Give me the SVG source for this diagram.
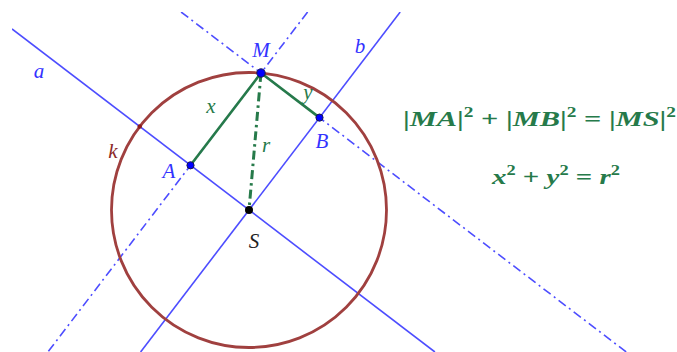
<svg xmlns="http://www.w3.org/2000/svg" width="677" height="352" viewBox="0 0 677 352">
<style>
.ln{stroke:#4d4dff;stroke-width:1.6;fill:none}
.dd{stroke:#4d4dff;stroke-width:1.6;fill:none;stroke-dasharray:9 4 2 4}
.seg{stroke:#267a4a;stroke-width:2.6;fill:none}
.segdd{stroke:#267a4a;stroke-width:3;fill:none;stroke-dasharray:9 4 2.5 4}
.circ{stroke:#a0403f;stroke-width:2.8;fill:none}
.pt{fill:#0000ff;stroke:#1a1a4d;stroke-width:1}
.lbl{font-family:"Liberation Serif","DejaVu Serif",serif;font-style:italic;font-size:21px}
.blue{fill:#3333ff}
.green{fill:#267a4a}
.eq{font-family:"Liberation Serif","DejaVu Serif",serif;font-weight:bold;fill:#267a4a;font-size:22px}
.it{font-style:italic}
.sup{font-size:14px}
</style>
<defs>
<clipPath id="view"><rect x="12" y="12" width="665" height="340"/></clipPath>
</defs>
<rect width="677" height="352" fill="#fff"/>
<g id="connectors" clip-path="url(#view)">
<line id="line-a" class="ln" x1="12" y1="29" x2="434.9" y2="352"/>
<line id="line-b" class="ln" x1="400.2" y1="12" x2="140.6" y2="352"/>
<line id="line-MB" class="dd" x1="181.1" y1="12" x2="626.3" y2="352"/>
<line id="line-MA" class="dd" x1="307.6" y1="12" x2="47.9" y2="352"/>
<circle id="circle-k" class="circ" cx="249" cy="210" r="137.5"/>
<line id="seg-x" class="seg" x1="261" y1="73" x2="190.5" y2="165.3"/>
<line id="seg-y" class="seg" x1="261" y1="73" x2="319.5" y2="117.6"/>
<line id="seg-r" class="segdd" x1="261" y1="73" x2="249" y2="210"/>
</g>
<g id="node-k-a"><circle cx="139.7" cy="126.5" r="2.2" fill="#8b1a1a"/></g>
<g id="node-M"><circle class="pt" cx="261" cy="73" r="4.2"/><text class="lbl blue" x="261" y="57" text-anchor="middle">M</text></g>
<g id="node-A"><circle class="pt" cx="190.5" cy="165.3" r="3.6"/><text class="lbl blue" x="169" y="178" text-anchor="middle">A</text></g>
<g id="node-B"><circle class="pt" cx="319.5" cy="117.6" r="3.6"/><text class="lbl blue" x="322" y="148" text-anchor="middle">B</text></g>
<g id="node-S"><circle cx="249" cy="210" r="4" fill="#000"/><text class="lbl" x="254" y="248" text-anchor="middle" fill="#222">S</text></g>
<g id="labels">
<text class="lbl blue" x="39" y="78" text-anchor="middle">a</text>
<text class="lbl blue" x="360" y="53" text-anchor="middle">b</text>
<text class="lbl" x="113" y="158" text-anchor="middle" fill="#8b2a2a">k</text>
<text class="lbl green" x="211" y="113" text-anchor="middle">x</text>
<text class="lbl green" x="308" y="99" text-anchor="middle">y</text>
<text class="lbl green" x="266" y="152" text-anchor="middle">r</text>
</g>
<g id="equations">
<text class="eq" x="403" y="126" textLength="273" lengthAdjust="spacingAndGlyphs">|<tspan class="it">MA</tspan>|<tspan class="sup" dy="-9">2</tspan><tspan dy="9"> + </tspan>|<tspan class="it">MB</tspan>|<tspan class="sup" dy="-9">2</tspan><tspan dy="9"> = </tspan>|<tspan class="it">MS</tspan>|<tspan class="sup" dy="-9">2</tspan></text>
<text class="eq" x="492" y="184" textLength="128" lengthAdjust="spacingAndGlyphs"><tspan class="it">x</tspan><tspan class="sup" dy="-9">2</tspan><tspan dy="9"> + </tspan><tspan class="it">y</tspan><tspan class="sup" dy="-9">2</tspan><tspan dy="9"> = </tspan><tspan class="it">r</tspan><tspan class="sup" dy="-9">2</tspan></text>
</g>
</svg>
